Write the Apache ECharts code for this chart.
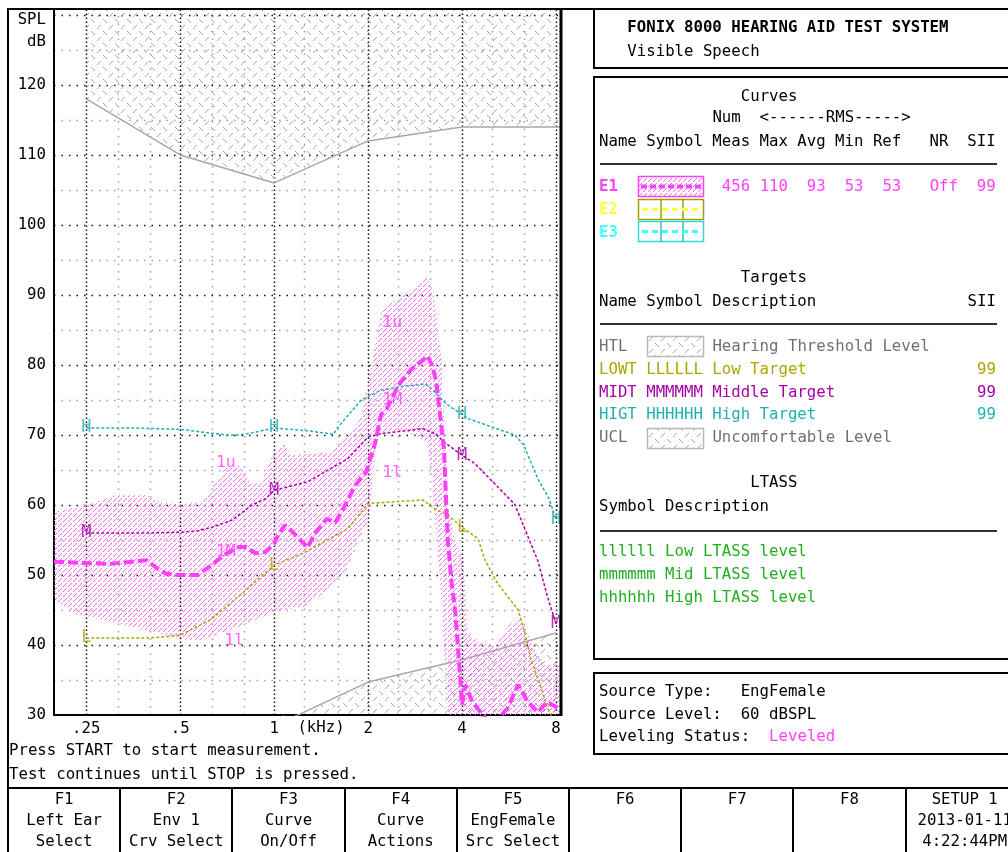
<!DOCTYPE html>
<html>
<head>
<meta charset="utf-8">
<script src="https://cdn.jsdelivr.net/npm/echarts@6/dist/echarts.min.js"></script>
<style>
  html, body { margin: 0; padding: 0; background: #fff; }
  #chart { width: 1008px; height: 852px; }
</style>
</head>
<body>
<div id="chart"></div>
<script>
const MONO = '"DejaVu Sans Mono", "Liberation Mono", monospace'
const FS = 15.7
const CW = 9.45

const X_MIN = 0.197
const X_MAX = 8.3
const Y_MIN = 30
const Y_MAX = 130.7

// axes and grid
const freqTicks = [0.25, 0.5, 1, 2, 4, 8]
const freqTickLabels = ['.25', '.5', '1', '2', '4', '8']
const freqMinor = [0.315, 0.4, 0.63, 0.8, 1.25, 1.6, 2.5, 3.15, 5, 6.3]
const dbMajor = [40, 50, 60, 70, 80, 90, 100, 110, 120, 130]
const dbMinor = [35, 45, 55, 65, 75, 85, 95, 105, 115, 125]

// UCL / HTL (gray hatched)
const uclFreq = [0.25, 0.5, 1, 2, 4, 8, 8.3]
const uclDb = [118, 110, 106, 112, 114, 114, 114]
const htlFreq = [1, 2, 4, 8]
const htlDb = [28.4, 34.7, 37.9, 41.7]

// targets
const lowtFreq = [0.25, 0.4, 0.5, 0.63, 0.8, 1, 1.25, 1.72, 2, 2.5, 3, 3.3, 3.6, 4, 4.5, 4.74, 5.2, 6.05, 6.36, 6.65, 7.2, 7.5, 8]
const lowtDb = [41, 41, 41.4, 43.7, 47.6, 51.4, 53.2, 56.6, 60.2, 60.5, 60.7, 59.3, 58.6, 56.8, 55.2, 52.1, 48.8, 45, 41.7, 37.9, 33.6, 31.1, 28.5]
const midtFreq = [0.25, 0.4, 0.5, 0.57, 0.63, 0.73, 0.85, 0.94, 1, 1.28, 1.72, 2, 2.2, 3, 3.3, 3.5, 4, 4.4, 5.9, 6.3, 7, 7.5, 8]
const midtDb = [56, 56, 56.1, 56.3, 56.8, 57.8, 60, 60.9, 62.1, 63.3, 66.6, 69.7, 70.2, 70.9, 70.1, 69, 67.1, 65.9, 60.1, 57, 52, 47, 43]
const higtFreq = [0.25, 0.35, 0.5, 0.7, 0.77, 0.85, 1, 1.28, 1.55, 1.6, 1.9, 2.2, 2.55, 3.05, 3.2, 3.45, 3.6, 4, 4.2, 5.9, 6.3, 7, 7.6, 8]
const higtDb = [71, 71, 70.8, 70, 70, 70.3, 71, 70.6, 70.1, 71.1, 75, 76.4, 76.9, 77.3, 76.6, 75, 74.3, 72.9, 72.3, 70, 68.6, 63.7, 60.9, 57.9]
const lowtMarks = [0.25, 1, 4]
const midtMarks = [0.25, 1, 4, 8]
const higtMarks = [0.25, 1, 4, 8]

// E1 LTASS envelope and measured curve
const envUpperFreq = [0.197, 0.25, 0.31, 0.39, 0.43, 0.5, 0.59, 0.63, 0.7, 0.77, 0.81, 0.85, 0.91, 1, 1.08, 1.13, 1.35, 1.52, 1.72, 1.9, 2.05, 2.2, 2.37, 2.67, 2.95, 3.1, 3.25, 3.35, 3.45, 3.5, 3.55, 3.6, 3.8, 4.05, 4.15, 4.5, 5.1, 5.6, 6.05, 6.36, 6.9, 7.4, 8.3]
const envUpperDb = [59, 60, 61.4, 61.4, 60.4, 60.1, 60.4, 62.3, 65.3, 65.7, 64.3, 62.9, 63.3, 67.6, 68.6, 67.1, 67.3, 67.6, 69.7, 72.6, 80, 87.4, 88.9, 90.3, 91.9, 92.6, 90, 85, 80.3, 73, 66, 60, 55, 52, 42, 40.5, 39.7, 42.6, 43.9, 42.7, 38.9, 37.1, 37.4]
const envLowerFreq = [0.197, 0.23, 0.3, 0.41, 0.51, 0.59, 0.77, 1.01, 1.26, 1.52, 1.7, 2, 2.07, 2.12, 2.3, 2.7, 3.1, 3.2, 3.3, 3.4, 3.55, 3.6, 8.3]
const envLowerDb = [46.5, 44.5, 43.3, 41.9, 40.7, 40.7, 42.6, 44.8, 45.5, 48.3, 50.7, 57.9, 63.6, 69.7, 70.6, 70.3, 69, 63.6, 56.4, 49.3, 35, 20, 20]
const e1Freq = [0.197, 0.25, 0.3, 0.35, 0.39, 0.42, 0.45, 0.49, 0.57, 0.62, 0.7, 0.77, 0.81, 0.87, 0.94, 1, 1.03, 1.08, 1.13, 1.19, 1.28, 1.34, 1.47, 1.57, 1.66, 1.82, 1.97, 2.1, 2.2, 2.3, 2.5, 2.75, 3, 3.1, 3.2, 3.3, 3.4, 3.5, 3.6, 3.7, 3.8, 3.95, 4, 4.1, 4.3, 4.6, 5, 5.6, 6.05, 6.5, 7, 7.5, 8.1, 8.3]
const e1Db = [51.9, 51.7, 51.6, 51.9, 52.1, 51, 50.2, 50, 50, 51.2, 53, 54, 54, 53.1, 53.3, 54.5, 55.7, 57.1, 56.4, 55.4, 53.9, 55.7, 58, 57.5, 59.4, 62.8, 64.7, 68.6, 72.9, 73.8, 77.1, 79.4, 80.7, 81.3, 80, 77.8, 72.9, 68, 55, 49, 45, 35, 31.5, 34.3, 32, 30.3, 28.5, 31, 34.3, 31.9, 30.4, 31.9, 31, 30.5]
const e1LabelText = ['1u', '1M', '1l', '1u', '1M', '1l']
const e1LabelFreq = [0.7, 0.7, 0.745, 2.39, 2.39, 2.39]
const e1LabelDb = [66.1, 53.3, 40.6, 86, 75, 64.6]

// E1 summary values
const e1Summary = { meas: 456, max: 110, avg: 93, min: 53, ref: 53, nr: 'Off', sii: 99 }
const targetSii = [99, 99, 99]

const PINK = '#FF40FF'
const OLIVE = '#A8A800'
const PURPLE = '#A800A8'
const TEAL = '#20B0B0'
const GREEN = '#20B020'
const GRAYTXT = '#707070'

function tile(size, color, pts) {
  const c = document.createElement('canvas')
  c.width = c.height = size
  const g = c.getContext('2d')
  g.fillStyle = color
  pts.forEach(([x, y]) => g.fillRect(x, y, 1, 1))
  return { image: c, repeat: 'repeat' }
}
const grayHatch = tile(12, '#A8A8A8', [[1, 4], [2, 3], [3, 2], [4, 1], [7, 7], [8, 8], [9, 9], [10, 10]])
const pinkHatch = tile(5, '#FF66FF', [[0, 4], [1, 3], [3, 1], [4, 0]])

const zip = (xs, ys) => xs.map((x, i) => [x, ys[i]])

function targetLine(name, freqs, vals, color) {
  return {
    type: 'line', name, z: 3, silent: true, symbol: 'none', clip: true,
    data: zip(freqs, vals),
    lineStyle: { color, width: 1.5, type: [3, 2] }
  }
}

function letterSeries(name, freqs, vals, marks, letter, color) {
  return {
    type: 'scatter', name, z: 6, silent: true, symbolSize: 1,
    itemStyle: { color: 'rgba(0,0,0,0)' },
    data: marks.map(f => [f, vals[freqs.indexOf(f)]]),
    label: { show: true, position: 'inside', formatter: letter, color, fontFamily: MONO, fontSize: 17 }
  }
}

const gridItems = []
freqTicks.forEach(f => gridItems.push([f, Y_MIN, 0, 1]))
freqMinor.forEach(f => gridItems.push([f, Y_MIN, 0, 0]))
dbMajor.forEach(d => gridItems.push([1, d, 1, 1]))
dbMinor.forEach(d => gridItems.push([1, d, 1, 0]))

function renderGrid(params, api) {
  const horiz = api.value(2)
  const major = api.value(3)
  let a, b
  if (horiz) {
    a = api.coord([X_MIN, api.value(1)])
    b = api.coord([X_MAX, api.value(1)])
    a[1] = b[1] = Math.round(a[1]) + 0.5
  } else {
    a = api.coord([api.value(0), Y_MIN])
    b = api.coord([api.value(0), Y_MAX])
    a[0] = b[0] = Math.round(a[0]) + 0.5
  }
  const dash = !horiz && major ? [1.5, 2.5] : [1.5, 6]
  return {
    type: 'line',
    shape: { x1: a[0], y1: a[1], x2: b[0], y2: b[1] },
    style: { stroke: major ? '#111' : '#A0A0A0', lineWidth: 1.5, lineDash: dash }
  }
}

function renderEnvelope(params, api) {
  const pts = envUpperFreq.map((f, i) => api.coord([f, envUpperDb[i]]))
  for (let i = envLowerFreq.length - 1; i >= 0; i--) pts.push(api.coord([envLowerFreq[i], envLowerDb[i]]))
  return { type: 'polygon', shape: { points: pts }, style: { fill: pinkHatch, stroke: null } }
}

// ---- static screen furniture ----
const col = c => 599 + c * CW
function txt(x, y, s, color = '#000', opts = {}) {
  const align = opts.align || 'left'
  return {
    type: 'text', x, y, silent: true, z: 20,
    style: {
      text: s, fill: color,
      font: (opts.bold ? 'bold ' : '') + FS + 'px ' + MONO,
      textAlign: align, align, textVerticalAlign: 'middle', verticalAlign: 'middle'
    }
  }
}
function line(x1, y1, x2, y2, color = '#000', width = 2, dash) {
  return { type: 'line', silent: true, z: 20, shape: { x1, y1, x2, y2 }, style: { stroke: color, lineWidth: width, lineDash: dash } }
}
function box(x, y, w, h, stroke = '#000', width = 2, fill = null) {
  return { type: 'rect', silent: true, z: 20, shape: { x, y, width: w, height: h }, style: { stroke, lineWidth: width, fill } }
}

const fkeys = [
  ['F1', 'Left Ear', 'Select'], ['F2', 'Env 1', 'Crv Select'], ['F3', 'Curve', 'On/Off'],
  ['F4', 'Curve', 'Actions'], ['F5', 'EngFemale', 'Src Select'], ['F6', '', ''],
  ['F7', '', ''], ['F8', '', ''], ['SETUP 1', '2013-01-11', '4:22:44PM']
]

const pad = (v, n) => String(v).padStart(n, ' ')
const e1Row = pad(e1Summary.meas, 3) + ' ' + pad(e1Summary.max, 3) + ' ' + pad(e1Summary.avg, 3) + ' ' +
  pad(e1Summary.min, 3) + ' ' + pad(e1Summary.ref, 3) + '   ' + e1Summary.nr + '  ' + pad(e1Summary.sii, 2)

const graphic = [
  // frame
  line(8, 9, 1008, 9),
  line(8, 8, 8, 852),
  line(561, 9, 561, 716, '#000', 3),
  line(8, 788, 1008, 788),
  ...fkeys.slice(1).map((k, i) => line(Math.round(8 + 112.2 * (i + 1)), 788, Math.round(8 + 112.2 * (i + 1)), 852)),
  ...fkeys.flatMap((k, i) => {
    const cx = 8 + 112.2 * i + 56.1 + (i === 8 ? 3 : 0)
    return [txt(cx, 800, k[0], '#000', { align: 'center' }), txt(cx, 821, k[1], '#000', { align: 'center' }), txt(cx, 842, k[2], '#000', { align: 'center' })]
  }),
  // chart side text
  txt(46, 20, 'SPL', '#000', { align: 'right' }),
  txt(46, 42, 'dB', '#000', { align: 'right' }),
  txt(321, 728, '(kHz)', '#000', { align: 'center' }),
  txt(9, 751, 'Press START to start measurement.'),
  txt(9, 775, 'Test continues until STOP is pressed.'),
  // right panel boxes
  box(594, 9, 430, 59),
  box(594, 77, 430, 582),
  box(594, 673, 430, 81),
  txt(col(3), 28, 'FONIX 8000 HEARING AID TEST SYSTEM', '#000', { bold: true }),
  txt(col(3), 52, 'Visible Speech'),
  txt(col(15), 97, 'Curves'),
  txt(col(12), 118, 'Num  <------RMS----->'),
  txt(col(0), 142, 'Name Symbol Meas Max Avg Min Ref   NR  SII'),
  line(600, 164, 997, 164, '#333', 2),
  txt(col(0), 187, 'E1', PINK, { bold: true }),
  txt(col(13), 187, e1Row, PINK),
  txt(col(0), 210, 'E2', '#FFFF40', { bold: true }),
  txt(col(0), 233, 'E3', '#40FFFF', { bold: true }),
  box(638.5, 176.5, 65, 20, PINK, 1.5, pinkHatch),
  line(641, 186.5, 701, 186.5, PINK, 4, [6, 3]),
  box(638.5, 199.5, 65, 20, '#A0A000', 1.5),
  line(661, 199.5, 661, 219.5, '#A0A000', 1.5),
  line(683, 199.5, 683, 219.5, '#A0A000', 1.5),
  line(642, 209.5, 701, 209.5, '#FFFF40', 3, [6, 4]),
  box(638.5, 221.5, 65, 20, '#30D8D8', 1.5),
  line(661, 221.5, 661, 241.5, '#30C0C0', 1.5),
  line(683, 221.5, 683, 241.5, '#30C0C0', 1.5),
  line(642, 231.5, 701, 231.5, '#40FFFF', 3, [6, 4]),
  txt(col(15), 278, 'Targets'),
  txt(col(0), 302, 'Name Symbol Description'),
  txt(col(39), 302, 'SII'),
  line(600, 324, 997, 324, '#333', 2),
  txt(col(0), 347, 'HTL', GRAYTXT),
  box(647.5, 336.5, 56, 20, '#B8B8B8', 1.5, grayHatch),
  txt(col(12), 347, 'Hearing Threshold Level', GRAYTXT),
  txt(col(0), 370, 'LOWT LLLLLL Low Target', OLIVE),
  txt(col(40), 370, String(targetSii[0]), OLIVE),
  txt(col(0), 393, 'MIDT MMMMMM Middle Target', PURPLE),
  txt(col(40), 393, String(targetSii[1]), PURPLE),
  txt(col(0), 415, 'HIGT HHHHHH High Target', TEAL),
  txt(col(40), 415, String(targetSii[2]), TEAL),
  txt(col(0), 438, 'UCL', GRAYTXT),
  box(647.5, 428.5, 56, 20, '#B8B8B8', 1.5, grayHatch),
  txt(col(12), 438, 'Uncomfortable Level', GRAYTXT),
  txt(col(16), 483, 'LTASS'),
  txt(col(0), 507, 'Symbol Description'),
  line(600, 531, 997, 531, '#333', 2),
  txt(col(0), 552, 'llllll Low LTASS level', GREEN),
  txt(col(0), 575, 'mmmmmm Mid LTASS level', GREEN),
  txt(col(0), 598, 'hhhhhh High LTASS level', GREEN),
  txt(col(0), 692, 'Source Type:   EngFemale'),
  txt(col(0), 715, 'Source Level:  60 dBSPL'),
  txt(col(0), 737, 'Leveling Status:'),
  txt(col(18), 737, 'Leveled', PINK)
]

const chart = echarts.init(document.getElementById('chart'), null, { renderer: 'canvas' })

chart.setOption({
  animation: false,
  backgroundColor: '#fff',
  grid: { left: 54, top: 10, width: 507, height: 705 },
  xAxis: {
    type: 'log', logBase: 2, min: X_MIN, max: X_MAX,
    axisLine: { show: true, lineStyle: { color: '#000', width: 2 } },
    axisTick: { show: false },
    splitLine: { show: false },
    axisLabel: {
      color: '#000', fontFamily: MONO, fontSize: FS, margin: 6,
      formatter: v => {
        const i = freqTicks.findIndex(t => Math.abs(t - v) < t * 1e-3)
        return i < 0 ? '' : freqTickLabels[i]
      }
    }
  },
  yAxis: {
    type: 'value', min: Y_MIN, max: Y_MAX, interval: 10,
    axisLine: { show: true, lineStyle: { color: '#000', width: 2 } },
    axisTick: { show: false },
    splitLine: { show: false },
    axisLabel: {
      color: '#000', fontFamily: MONO, fontSize: FS, margin: 8,
      formatter: v => (v <= 120 && v % 10 === 0 ? String(v) : '')
    }
  },
  series: [
    { type: 'custom', name: 'grid', z: 0, silent: true, data: gridItems, renderItem: renderGrid },
    {
      type: 'line', name: 'UCL', z: 1, silent: true, symbol: 'none',
      data: zip(uclFreq, uclDb),
      lineStyle: { color: '#A8A8A8', width: 1.5 },
      areaStyle: { origin: 'end', color: grayHatch, opacity: 1 }
    },
    {
      type: 'line', name: 'HTL', z: 1, silent: true, symbol: 'none', clip: true,
      data: zip(htlFreq, htlDb),
      lineStyle: { color: '#A8A8A8', width: 1.5 },
      areaStyle: { origin: 'start', color: grayHatch, opacity: 1 }
    },
    { type: 'custom', name: 'E1 range', z: 2, silent: true, clip: true, data: [[1, 60]], renderItem: renderEnvelope },
    targetLine('LOWT', lowtFreq, lowtDb, OLIVE),
    targetLine('MIDT', midtFreq, midtDb, PURPLE),
    targetLine('HIGT', higtFreq, higtDb, TEAL),
    {
      type: 'line', name: 'E1', z: 4, silent: true, symbol: 'none', clip: true,
      data: zip(e1Freq, e1Db),
      lineStyle: { color: PINK, width: 4, type: [10, 4] }
    },
    letterSeries('LOWT marks', lowtFreq, lowtDb, lowtMarks, 'L', OLIVE),
    letterSeries('MIDT marks', midtFreq, midtDb, midtMarks, 'M', PURPLE),
    letterSeries('HIGT marks', higtFreq, higtDb, higtMarks, 'H', TEAL),
    {
      type: 'scatter', name: 'E1 labels', z: 6, silent: true, symbolSize: 1,
      itemStyle: { color: 'rgba(0,0,0,0)' },
      data: e1LabelText.map((t, i) => ({ name: t, value: [e1LabelFreq[i], e1LabelDb[i]] })),
      label: { show: true, position: 'inside', formatter: '{b}', color: PINK, fontFamily: MONO, fontSize: 16.5 }
    }
  ],
  graphic
})
</script>
</body>
</html>
